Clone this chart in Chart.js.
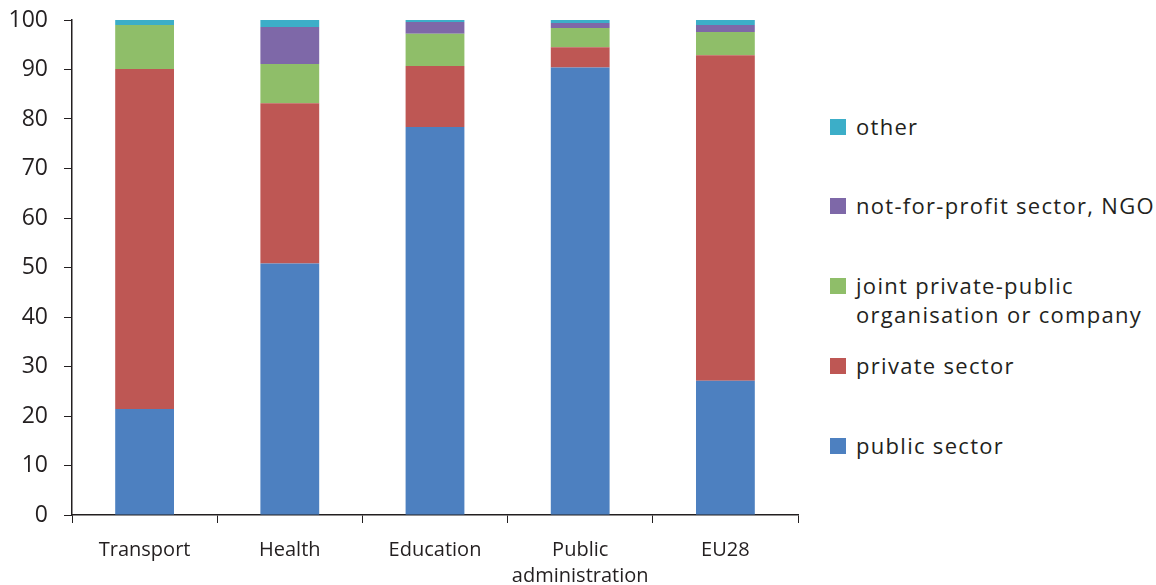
<!DOCTYPE html>
<html>
<head>
<meta charset="utf-8">
<script src="https://cdn.jsdelivr.net/npm/chart.js@4.4.1/dist/chart.umd.min.js"></script>
<style>
  body { margin: 0; background: #fff; }
  #wrap { position: relative; width: 1156px; height: 585px; }
  #box { position: absolute; left: 0; top: 0; width: 802px; height: 585px; }
  #legend { position: absolute; left: 830px; top: 0; font-family: "Open Sans", sans-serif; font-size: 22px; letter-spacing: 1.3px; color: #231f20; }
  .item { position: absolute; left: 0; white-space: nowrap; line-height: 29px; }
  .sw { position: absolute; left: 0; top: 7px; width: 16px; height: 16px; }
  .txt { position: absolute; left: 26px; top: 0; }
</style>
</head>
<body>
<div id="wrap">
  <div id="box"><canvas id="activityChart"></canvas></div>
  <div id="legend"></div>
</div>
<script>
// Sector shares by domain, in %
const labels = ['Transport', 'Health', 'Education', ['Public', 'administration'], 'EU28'];
const publicSector = [21.4, 50.8, 78.4, 90.4, 27.1];
const privateSector = [68.7, 32.4, 12.3, 4.1, 65.8];
const jointSector = [8.9, 7.9, 6.5, 3.9, 4.7];
const ngoSector = [0, 7.5, 2.4, 1.0, 1.4];
const otherSector = [1.0, 1.4, 0.4, 0.6, 1.0];
const yTicks = [0, 10, 20, 30, 40, 50, 60, 70, 80, 90, 100];

const seriesNames = ['public sector', 'private sector', ['joint private-public', 'organisation or company'], 'not-for-profit sector, NGO', 'other'];
const seriesColors = ['#4d80c0', '#be5754', '#8fbe69', '#7e68a8', '#3caec8'];
const seriesData = [publicSector, privateSector, jointSector, ngoSector, otherSector];

const txtColor = '#231f20';
const fontFam = '"Open Sans", sans-serif';

const datasets = seriesData.map((d, i) => ({
  label: seriesNames[i],
  data: d,
  backgroundColor: seriesColors[i],
  borderWidth: 0,
  barPercentage: 0.405,
  categoryPercentage: 1,
}));

new Chart(document.getElementById("activityChart"), {
  type: "bar",
  data: { labels: labels, datasets: datasets },
  options: {
    responsive: true,
    maintainAspectRatio: false,
    animation: false,
    layout: { padding: { top: 20, right: 4, left: 0, bottom: 0 } },
    plugins: { legend: { display: false }, tooltip: { enabled: false } },
    scales: {
      x: {
        stacked: true,
        afterFit: (s) => { s.height = 70; },
        grid: { display: true, drawOnChartArea: false, drawTicks: true, tickLength: 8, color: '#231f20', offset: true },
        border: { color: '#231f20', width: 1.5 },
        ticks: { color: txtColor, font: { family: fontFam, size: 20, lineHeight: 1.3 }, padding: 14, maxRotation: 0, autoSkip: false },
      },
      y: {
        stacked: true,
        min: 0,
        max: 100,
        afterFit: (s) => { s.width = 72; s.paddingTop = 0; s.paddingBottom = 0; },
        afterBuildTicks: (axis) => { axis.ticks = yTicks.map(v => ({ value: v })); },
        grid: { display: true, drawOnChartArea: false, drawTicks: true, tickLength: 8, color: '#231f20' },
        border: { color: '#231f20', width: 1.5 },
        ticks: { color: txtColor, font: { family: fontFam, size: 23 }, padding: 16 },
      },
    },
  },
});

// Legend on the right, reversed order like the original
const legendTops = [446, 366, 286, 206, 127];
const legendEl = document.getElementById('legend');
seriesNames.forEach((name, i) => {
  const lines = Array.isArray(name) ? name : [name];
  const it = document.createElement('div');
  it.className = 'item';
  it.style.top = (legendTops[i] - 15) + 'px';
  it.innerHTML = '<div class="sw" style="background:' + seriesColors[i] + '"></div><div class="txt">' + lines.join('<br>') + '</div>';
  legendEl.appendChild(it);
});
</script>
</body>
</html>
